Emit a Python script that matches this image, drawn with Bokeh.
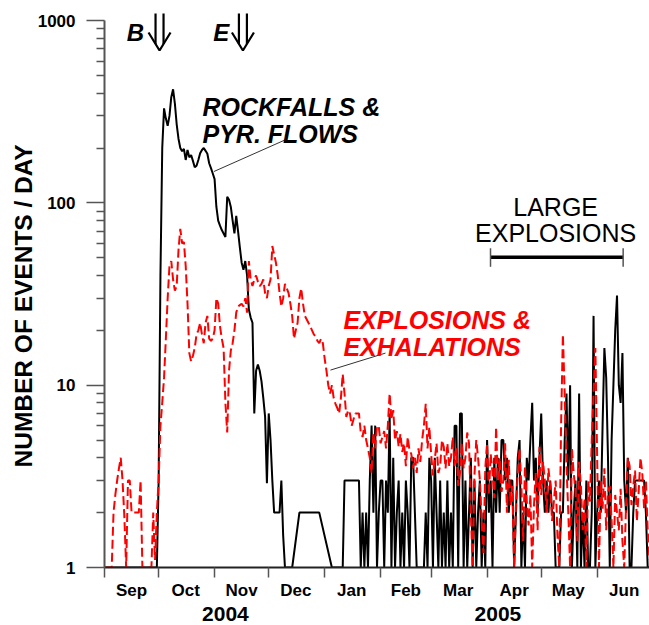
from bokeh.plotting import figure
from bokeh.models import Range1d, FixedTicker, Label, LinearAxis, Title
from bokeh.embed import file_html
from bokeh.resources import INLINE

FONT = "Liberation Sans"

# ---- calendar (day 0 = 1 Sep 2004) ----
month_start = [0, 30, 61, 91, 122, 153, 181, 212, 242, 273]
month_len = [30, 31, 30, 31, 31, 28, 31, 30, 31, 30]
month_names = ["Sep", "Oct", "Nov", "Dec", "Jan", "Feb", "Mar", "Apr", "May", "Jun"]
year_names = ["2004", "2005"]
year_pos = [67, 218]

y_ticks = [1, 10, 100, 1000]
y_tick_labels = ["1", "10", "100", "1000"]

# ---- rockfalls & pyroclastic flows (black) ----
black_day = [0, 29, 30, 31, 32,
             33, 34, 35, 36, 37, 38, 39, 40, 41, 42,
             43, 44, 45, 46, 47, 48, 49, 50, 51, 52,
             53, 54, 55, 56, 57, 58, 59, 60, 61, 62,
             63, 64, 65, 66, 67, 68, 69, 70, 71, 72,
             73, 74, 75, 76, 77, 78, 79, 80, 81, 82,
             83, 84, 85, 86, 87, 88, 89, 90, 91, 92,
             93, 94, 97, 98, 99, 100, 104, 108, 119, 126, 132, 133] + list(range(141, 303))
black_val = [1, 1, 3, 40, 200,
             330, 290, 265, 300, 380, 420, 350, 270, 225, 200,
             192, 198, 172, 195, 178, 183, 170, 157, 160, 172,
             187, 195, 200, 193, 186, 165, 155, 145, 135, 95,
             80, 75, 71, 68, 65, 108, 104, 95, 80, 68,
             85, 70, 57, 47, 43, 48, 40, 26, 23.5, 22,
             7, 12, 13, 12, 10.5, 8.5, 6.7, 2.9, 7, 5,
             3, 2, 2, 3, 1.5, 1, 1, 2, 2, 1, 1, 3,
             # day 141 ->
             3, 1, 2, 1, 2, 1, 3, 6, 2, 6,
             1, 2, 3, 3, 1, 3, 2, 7, 1, 4,
             1, 2, 3, 1, 2, 1, 3, 2, 1, 4,
             4, 2, 1, 1, 1, 1, 1, 2, 1, 4,
             3, 1, 4, 2, 1, 3, 1, 2, 1, 3,
             1, 2, 1, 6, 6, 1, 7, 7, 1, 3,
             1, 2, 4, 1, 3, 1, 2, 3, 1, 2,
             1, 5, 2, 3, 1, 4, 2, 4, 2, 5,
             5, 3, 4, 2, 3, 3, 1, 2, 4, 5,
             1, 2, 1, 4, 3, 5, 8, 3, 4, 2,
             4, 7, 3, 2, 3, 2, 3, 2, 2, 1,
             1, 1, 2, 2, 5, 9, 3, 10, 1, 2,
             3, 1, 9, 1, 2, 1, 3, 1, 1, 2,
             24, 1, 2, 3, 2, 6, 16, 11, 4, 1,
             5, 10, 20, 31, 10, 8, 15, 3, 2, 4,
             1, 1, 2, 3, 3, 3, 3, 3, 3, 2,
             1, 1]

# ---- explosions & exhalations (red, daily) ----
red_day = list(range(0, 303))
red_val = [1, 1, 1, 1, 1, 2, 2.5, 3, 3.5, 4,
           3, 1.9, 1, 3, 3, 2, 2, 2, 2, 2,
           3, 1, 1, 1, 1, 1, 1, 2, 1.1, 2,
           3, 6, 8, 11, 18, 30, 45, 48, 38, 33,
           35, 55, 72, 60, 61, 45, 28, 15, 13.5, 14.5,
           16, 19, 20, 22, 19, 17, 22, 24, 18, 17.5,
           18, 20, 30, 28, 21, 18, 16, 8, 5.5, 12,
           15.5, 17, 20, 25, 27, 27.5, 28, 27, 30, 25,
           48, 38, 35, 38, 40, 37, 35, 36, 38, 32,
           30, 35, 38, 58, 52, 47, 40, 32, 27, 30,
           36, 34, 32, 28, 24, 18, 20, 22, 30, 34,
           28, 24, 23, 22, 21, 20, 19, 18.5, 17.5, 17,
           18, 17, 14, 12, 10, 9, 10, 8.5, 7.9, 7.5,
           7, 8.5, 11.5, 9, 6.7, 7.3, 7, 6, 6.5, 7,
           7,
           # day 141 ->
           7, 5.5, 5.2, 6, 5, 4.5, 4, 3.3, 5.5, 4.5,
           6, 5.9, 4.8, 5.2, 5.6, 4.5, 6, 9, 6.5, 7.3,
           5, 5.6, 4.6, 5.4, 4.3, 4.8, 3.6, 5.2, 4.4, 4.2,
           3.5, 4, 3.3, 4.5, 3.8, 5, 6, 7.9, 4.5, 5.9,
           4.2, 3.2, 3.9, 4.8, 3.3, 3.6, 5, 4.6, 3.5, 4.8,
           3.6, 4, 5.2, 3.6, 4.5, 2.8, 3.3, 4.8, 3.5, 4,
           5.5, 4.8, 2, 1, 3.2, 5, 4, 3, 1.8, 1.2,
           3.5, 4.8, 2.5, 4.2, 3.3, 2.4, 5.9, 3, 4, 2.6,
           3, 4.8, 2, 3.9, 2.2, 2.8, 1, 2.2, 3.3, 4.5,
           2.8, 1.4, 3.6, 2.3, 1.7, 2.5, 1, 2.2, 3.3, 1.6,
           4.6, 2.5, 3.8, 3, 2, 3.5, 2.8, 1.8, 2.3, 3,
           1.5, 1, 6, 19, 9, 3.6, 2, 1, 4.5, 3.3,
           2.6, 1.4, 3.8, 2.8, 1.6, 2.4, 1, 3, 2.3, 5,
           9, 16, 4, 1, 3, 2.1, 3.5, 1.6, 2.6, 2.8,
           1.8, 1, 2.5, 2, 1.6, 2.7, 1.4, 1, 2.2, 4,
           3.6, 2.2, 2.8, 3.4, 1.8, 2.6, 4, 3.3, 2.1, 3,
           1.6, 1.1]

# ---- annotation anchors (day, events/day) ----
rock_leader = ([60.6, 100.3], [148.6, 222.0])
expl_leader = ([125.2, 155.7], [12.1, 15.0])
large_bar = ([213.9, 287.4], 50.3)
large_cap = (44.6, 56.4)
arrow_days = [30.5, 76.7]
arrow_tip = 685.0

PX_DAY = 1.805      # pixels per day
PX_DEC = 182.33     # pixels per decade

p = figure(width=649, height=625, x_range=Range1d(0, 302), y_range=Range1d(1, 1210),
           y_axis_type="log", output_backend="svg", toolbar_location=None,
           min_border_left=104, min_border_right=0, min_border_top=5, min_border_bottom=58)
p.outline_line_color = None
p.xgrid.visible = False
p.ygrid.visible = False
p.background_fill_color = "white"

# x axis: month names at mid-month, small ticks at month starts
month_mid = [s + n // 2 for s, n in zip(month_start, month_len)]
xa = p.xaxis[0]
xa.ticker = FixedTicker(ticks=month_mid, minor_ticks=month_start)
xa.major_label_overrides = {m: n for m, n in zip(month_mid, month_names)}
xa.major_tick_line_color = None
xa.major_tick_out = 0
xa.major_tick_in = 0
xa.minor_tick_out = 10
xa.minor_tick_in = 0
xa.minor_tick_line_color = "#555555"
xa.minor_tick_line_width = 1.5
xa.axis_line_color = "#222222"
xa.axis_line_width = 2
xa.major_label_standoff = 3
xa.major_label_text_font = FONT
xa.major_label_text_font_style = "bold"
xa.major_label_text_font_size = "17px"
xa.major_label_text_color = "black"

ya = LinearAxis(ticker=FixedTicker(ticks=year_pos),
                major_label_overrides={y: n for y, n in zip(year_pos, year_names)},
                axis_line_color=None, major_tick_line_color=None, minor_tick_line_color=None,
                major_tick_out=0, major_tick_in=0, major_label_standoff=4,
                major_label_text_font=FONT, major_label_text_font_style="bold",
                major_label_text_font_size="21px", major_label_text_color="black")
p.add_layout(ya, "below")

minor = [m * 10 ** k for k in range(3) for m in range(2, 10)]
yax = p.yaxis[0]
yax.ticker = FixedTicker(ticks=y_ticks, minor_ticks=minor)
yax.bounds = (1, 1000)
yax.major_label_overrides = {t: s for t, s in zip(y_ticks, y_tick_labels)}
yax.major_label_text_font = FONT
yax.major_label_text_font_style = "bold"
yax.major_label_text_font_size = "17px"
yax.major_label_text_color = "black"
yax.major_label_standoff = 11
yax.major_tick_out = 18
yax.major_tick_in = 0
yax.minor_tick_out = 8
yax.minor_tick_in = 0
yax.axis_line_color = "#555555"
yax.axis_line_width = 2
yax.major_tick_line_color = "#555555"
yax.minor_tick_line_color = "#555555"
yax.major_tick_line_width = 1.5
yax.minor_tick_line_width = 1.5

p.add_layout(Title(text="NUMBER OF EVENTS / DAY", align="left", offset=100,
                   text_font=FONT, text_font_size="24.5px", text_font_style="bold",
                   text_color="black", standoff=-5), "left")

p.line(black_day, black_val, line_color="black", line_width=2)
p.line(red_day, red_val, line_color="#ff0000", line_width=2, line_dash="9 4")

p.line(rock_leader[0], rock_leader[1], line_color="#333333", line_width=1)
p.line(expl_leader[0], expl_leader[1], line_color="#333333", line_width=1)
p.line(large_bar[0], [large_bar[1]] * 2, line_color="black", line_width=3.5)
p.segment(x0=[large_bar[0][0], large_bar[0][1]], x1=[large_bar[0][0], large_bar[0][1]],
          y0=[large_cap[0]] * 2, y1=[large_cap[1]] * 2, line_color="#555555", line_width=1.5)

# double-shafted down arrows (shape in pixels relative to the tip)
arrow_shape = [[(-4, 6.5), (-4, 37)], [(4, 6.5), (4, 37)], [(-11, 18), (0, 0), (11, 18)]]
axs, ays = [], []
for d in arrow_days:
    for part in arrow_shape:
        axs.append([d + dx / PX_DAY for dx, dy in part])
        ays.append([arrow_tip * 10 ** (dy / PX_DEC) for dx, dy in part])
p.multi_line(axs, ays, line_color="black", line_width=2.2)


def lab(x, y, text, size, style="bold", color="black", align="left", baseline="alphabetic"):
    p.add_layout(Label(x=x, y=y, text=text, text_font=FONT, text_font_size=size,
                       text_font_style=style, text_color=color, text_align=align,
                       text_baseline=baseline))


lab(17.2, 860, "B", "24px", style="bold italic", align="center")
lab(64.7, 860, "E", "24px", style="bold italic", align="center")

lab(54.3, 337, "ROCKFALLS &", "25px", style="bold italic")
lab(54.3, 239, "PYR. FLOWS", "25px", style="bold italic")
lab(132.4, 22.8, "EXPLOSIONS &", "25px", style="bold italic", color="#ff0000")
lab(132.4, 16.2, "EXHALATIONS", "25px", style="bold italic", color="#ff0000")
lab(250.0, 95, "LARGE", "25px", style="normal", align="center")
lab(250.0, 68.4, "EXPLOSIONS", "25px", style="normal", align="center")

open("out.html", "w").write(file_html(p, INLINE))
